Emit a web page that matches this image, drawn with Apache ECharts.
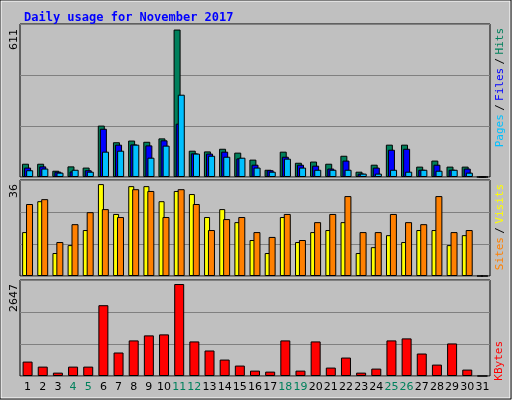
<!DOCTYPE html>
<html><head><meta charset="utf-8">
<script src="https://cdn.jsdelivr.net/npm/echarts@6/dist/echarts.min.js"></script>
<style>
html,body{margin:0;padding:0;background:#000;}
#c{position:absolute;left:0;top:0;width:512px;height:400px;}
</style></head>
<body><div id="c"></div>
<script>
const days = Array.from({length:31},(_,i)=>String(i+1));
const weekend = ['4','5','11','12','18','19','25','26'];
const hits  = [55,55,26,44,39,213,144,151,146,160,611,109,106,117,101,72,30,105,59,64,55,88,22,51,134,134,43,68,43,43,0];
const files = [39,44,22,23,28,200,134,135,131,152,221,98,97,105,77,51,28,84,51,47,35,68,14,39,113,117,30,51,30,35,0];
const pages = [28,35,18,30,22,105,109,134,80,130,341,97,88,84,80,39,22,76,39,30,30,30,14,14,30,22,30,26,30,18,0];
const visits= [17.2,29.3,9,12.1,18,36,24.3,35.2,35.2,29.3,33.3,32.1,23.1,26.2,21.1,14.1,9,23.1,13.3,17.2,18,21.1,9,11.3,16,13.3,18,18,12.1,16,0];
const sites = [28.2,30.1,13.3,20.3,25,26.2,23.1,34,33.3,23.1,34,28.2,18,22.3,23.1,17.2,15.3,24.3,14.1,21.1,24.3,31.3,17.2,17.2,24.3,21.1,20.3,31.3,17.2,18,0];
const kbytes= [415,270,97,270,270,2038,676,1024,1169,1198,2647,995,734,473,300,155,126,1024,155,995,242,531,97,213,1024,1082,647,328,937,184,0];
const maxLabels = ['611','36','2647'];

const chart = echarts.init(document.getElementById('c'));
const grids = [
  {left:20,width:470,top:24,height:153},
  {left:20,width:470,top:180,height:96},
  {left:20,width:470,top:280,height:96}
];
const maxes = [634, 37.6, 2763];
function bar(name,data,color,xi,w,gap){
  return {name,type:'bar',xAxisIndex:xi,yAxisIndex:xi,data,barWidth:w,barGap:gap,
    itemStyle:{color,borderColor:'#000',borderWidth:1},silent:true,animation:false};
}
const mono = 'DejaVu Sans Mono';
chart.setOption({
  backgroundColor:'#c0c0c0',
  animation:false,
  title:{text:'Daily usage for November 2017',left:19,top:7,
    textStyle:{color:'#0000ff',fontFamily:mono,fontWeight:'bold',fontSize:12}},
  grid:grids.map(g=>Object.assign({show:true,borderColor:'#000',borderWidth:1,backgroundColor:'#c0c0c0'},g)),
  xAxis:grids.map((g,i)=>({type:'category',gridIndex:i,data:days,
    axisLine:{show:false},axisTick:{show:false},
    axisLabel:{show:i===2,interval:0,margin:6,fontFamily:'DejaVu Sans',fontSize:11,
      formatter:v=>weekend.includes(v)?'{w|'+v+'}':'{n|'+v+'}',
      rich:{w:{color:'#00805c',fontSize:11,fontFamily:'DejaVu Sans'},n:{color:'#000',fontSize:11,fontFamily:'DejaVu Sans'}}}})),
  yAxis:grids.map((g,i)=>({type:'value',gridIndex:i,min:0,max:maxes[i],interval:maxes[i]/3,
    axisLabel:{show:false},axisLine:{show:false},axisTick:{show:false},
    splitLine:{lineStyle:{color:'#808080',width:1}}})),
  series:[
    bar('Hits',hits,'#00805c',0,7,'-70%'),
    bar('Files',files,'#0000ff',0,7,'-70%'),
    bar('Pages',pages,'#00c0ff',0,7,'-70%'),
    bar('Visits',visits,'#ffff00',1,6,'-35%'),
    bar('Sites',sites,'#ff8000',1,7,'-35%'),
    bar('KBytes',kbytes,'#ff0000',2,10,'0%')
  ],
  graphic:[
    {type:'rect',shape:{x:0.5,y:0.5,width:510,height:398},style:{fill:'none',stroke:'#fff',lineWidth:2},silent:true},
    {type:'rect',shape:{x:0,y:0,width:511,height:399},style:{fill:'none',stroke:'#000',lineWidth:1},silent:true},
    {type:'text',x:9,y:29,rotation:Math.PI/2,style:{text:maxLabels[0],fontFamily:'DejaVu Sans',fontSize:11,fill:'#000',align:'right',verticalAlign:'top'}},
    {type:'text',x:9,y:184,rotation:Math.PI/2,style:{text:maxLabels[1],fontFamily:'DejaVu Sans',fontSize:11,fill:'#000',align:'right',verticalAlign:'top'}},
    {type:'text',x:9,y:284,rotation:Math.PI/2,style:{text:maxLabels[2],fontFamily:'DejaVu Sans',fontSize:11,fill:'#000',align:'right',verticalAlign:'top'}},
    {type:'text',x:494,y:28,rotation:Math.PI/2,style:{text:'{a|Pages} {s|/} {b|Files} {s|/} {c|Hits}',align:'right',verticalAlign:'top',
      rich:{a:{fill:'#00c0ff',fontFamily:mono,fontSize:11},b:{fill:'#0000ff',fontFamily:mono,fontSize:11},c:{fill:'#00805c',fontFamily:mono,fontSize:11},s:{fill:'#000',fontFamily:mono,fontSize:11}}}},
    {type:'text',x:494,y:184,rotation:Math.PI/2,style:{text:'{a|Sites} {s|/} {b|Visits}',align:'right',verticalAlign:'top',
      rich:{a:{fill:'#ff8000',fontFamily:mono,fontSize:11},b:{fill:'#ffff00',fontFamily:mono,fontSize:11},s:{fill:'#000',fontFamily:mono,fontSize:11}}}},
    {type:'text',x:494,y:341,rotation:Math.PI/2,style:{text:'KBytes',fill:'#ff0000',fontFamily:mono,fontSize:11,align:'right',verticalAlign:'top'}}
  ]
});
</script></body></html>
